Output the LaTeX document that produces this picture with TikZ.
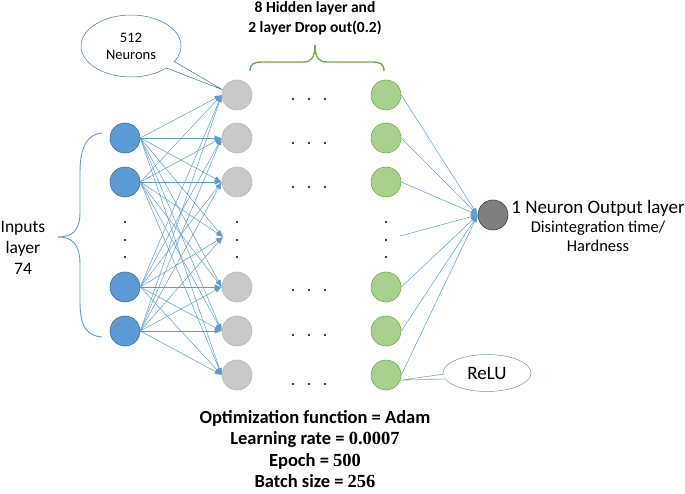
\documentclass[tikz,border=0pt]{standalone}
\usepackage{fontspec}
\setmainfont{Carlito}
\newfontfamily\numfont{Liberation Serif Bold}
\usetikzlibrary{positioning,arrows.meta,shapes.callouts,shapes.geometric}

\definecolor{inblue}{HTML}{5B9BD5}
\definecolor{inedge}{HTML}{41719C}
\definecolor{hgray}{HTML}{C9C9C9}
\definecolor{hedge}{HTML}{B8B8B8}
\definecolor{ggreen}{HTML}{A9D18E}
\definecolor{gedge}{HTML}{70AD47}
\definecolor{outgray}{HTML}{7F7F7F}
\definecolor{wireblue}{HTML}{5B9BD5}
\definecolor{reluedge}{HTML}{6F9F80}

\tikzset{
    neuron/.style={circle,minimum size=30pt,inner sep=0pt,line width=0.6pt},
    inneuron/.style={neuron,fill=inblue,draw=inedge},
    hidneuron/.style={neuron,fill=hgray,draw=hedge},
    lastneuron/.style={neuron,fill=ggreen,draw=gedge},
    outneuron/.style={neuron,fill=outgray,draw=black!75},
    link/.style={draw=wireblue,line width=0.5pt,-{Latex[length=7pt,width=5pt]}},
    dot/.style={fill=black},
}

\begin{document}
\begin{tikzpicture}[x=1pt,y=-1pt]
    \useasboundingbox (0,0) rectangle (685,494);

    % === COUCHES ===
    \foreach \i/\y in {1/138,2/182,3/287,4/331} {
        \node[inneuron] (in\i) at (125,\y) {};
    }
    \foreach \j/\y in {1/95,2/138,3/182,4/287,5/331,6/375} {
        \node[hidneuron] (h\j) at (237,\y) {};
        \node[lastneuron] (g\j) at (386,\y) {};
    }
    \node[outneuron] (out) at (493,215) {};
    \coordinate (hmid) at (223,237);
    \coordinate (gmid) at (400,236);

    % Points de suspension
    \foreach \x in {125,237,386} {
        \foreach \y in {222,240,257} {
            \fill[dot] (\x,\y) circle (1.1pt);
        }
    }
    \foreach \y in {99,143,187,290,335,384} {
        \foreach \x in {293,309,325} {
            \fill[dot] (\x,\y) circle (1.1pt);
        }
    }

    % Connexions
    \foreach \i in {1,...,4} {
        \foreach \j in {1,...,6} {
            \draw[link] (in\i.east) -- (h\j.west);
        }
        \draw[link] (in\i.east) -- (hmid);
    }
    \foreach \j in {1,...,6} {
        \draw[link] (g\j.east) -- (out.west);
    }
    \draw[link] (gmid) -- (out.west);

    % Accolades
    \draw[wireblue,line width=0.9pt] (102,133) .. controls (88,134) and (80,146) .. (80,172) -- (80,212) .. controls (80,231) and (72,237) .. (58,237);
    \draw[wireblue,line width=0.9pt] (58,237) .. controls (72,237) and (80,244) .. (80,264) -- (80,302) .. controls (80,328) and (88,336) .. (102,337);
    \draw[gedge,line width=1.4pt] (250,71) .. controls (250,64) and (254,62) .. (262,62) -- (303,62) .. controls (311,62) and (315,58) .. (315,45);
    \draw[gedge,line width=1.4pt] (315,45) .. controls (315,58) and (319,62) .. (327,62) -- (372,62) .. controls (380,62) and (384,64) .. (384,71);

    % Bulles
    \node[ellipse callout,draw=inedge,fill=white,line width=0.5pt,minimum width=100pt,minimum height=62pt,
          callout absolute pointer={(h1.160)},align=center,font=\fontsize{14.5}{17}\selectfont] (neurons) at (131,46) {512\\Neurons};
    \node[ellipse callout,draw=reluedge,fill=white,line width=0.5pt,minimum width=88pt,minimum height=37pt,
          callout absolute pointer={(g6.-20)},font=\fontsize{19}{20}\selectfont] (relu) at (487,373) {ReLU};

    % Textes
    \node[align=center,font=\bfseries\fontsize{15.5}{20}\selectfont] (hidtxt) at (315,18) {8 Hidden layer and\\2 layer Drop out(0.2)};
    \node[align=center,font=\fontsize{17.5}{21}\selectfont] (intxt) at (23,248) {Inputs\\layer\\74};
    \node[align=center,font=\fontsize{16.5}{19}\selectfont] (outtxt) at (598,226) {{\fontsize{19}{19}\selectfont 1 Neuron Output layer}\\Disintegration time/\\Hardness};
    \node[align=center,font=\bfseries\fontsize{18.5}{21.5}\selectfont] (params) at (315,449)
        {Optimization function = Adam\\Learning rate = {\numfont 0.0007}\\Epoch = {\numfont 500}\\Batch size = {\numfont 256}};
\end{tikzpicture}
\end{document}
